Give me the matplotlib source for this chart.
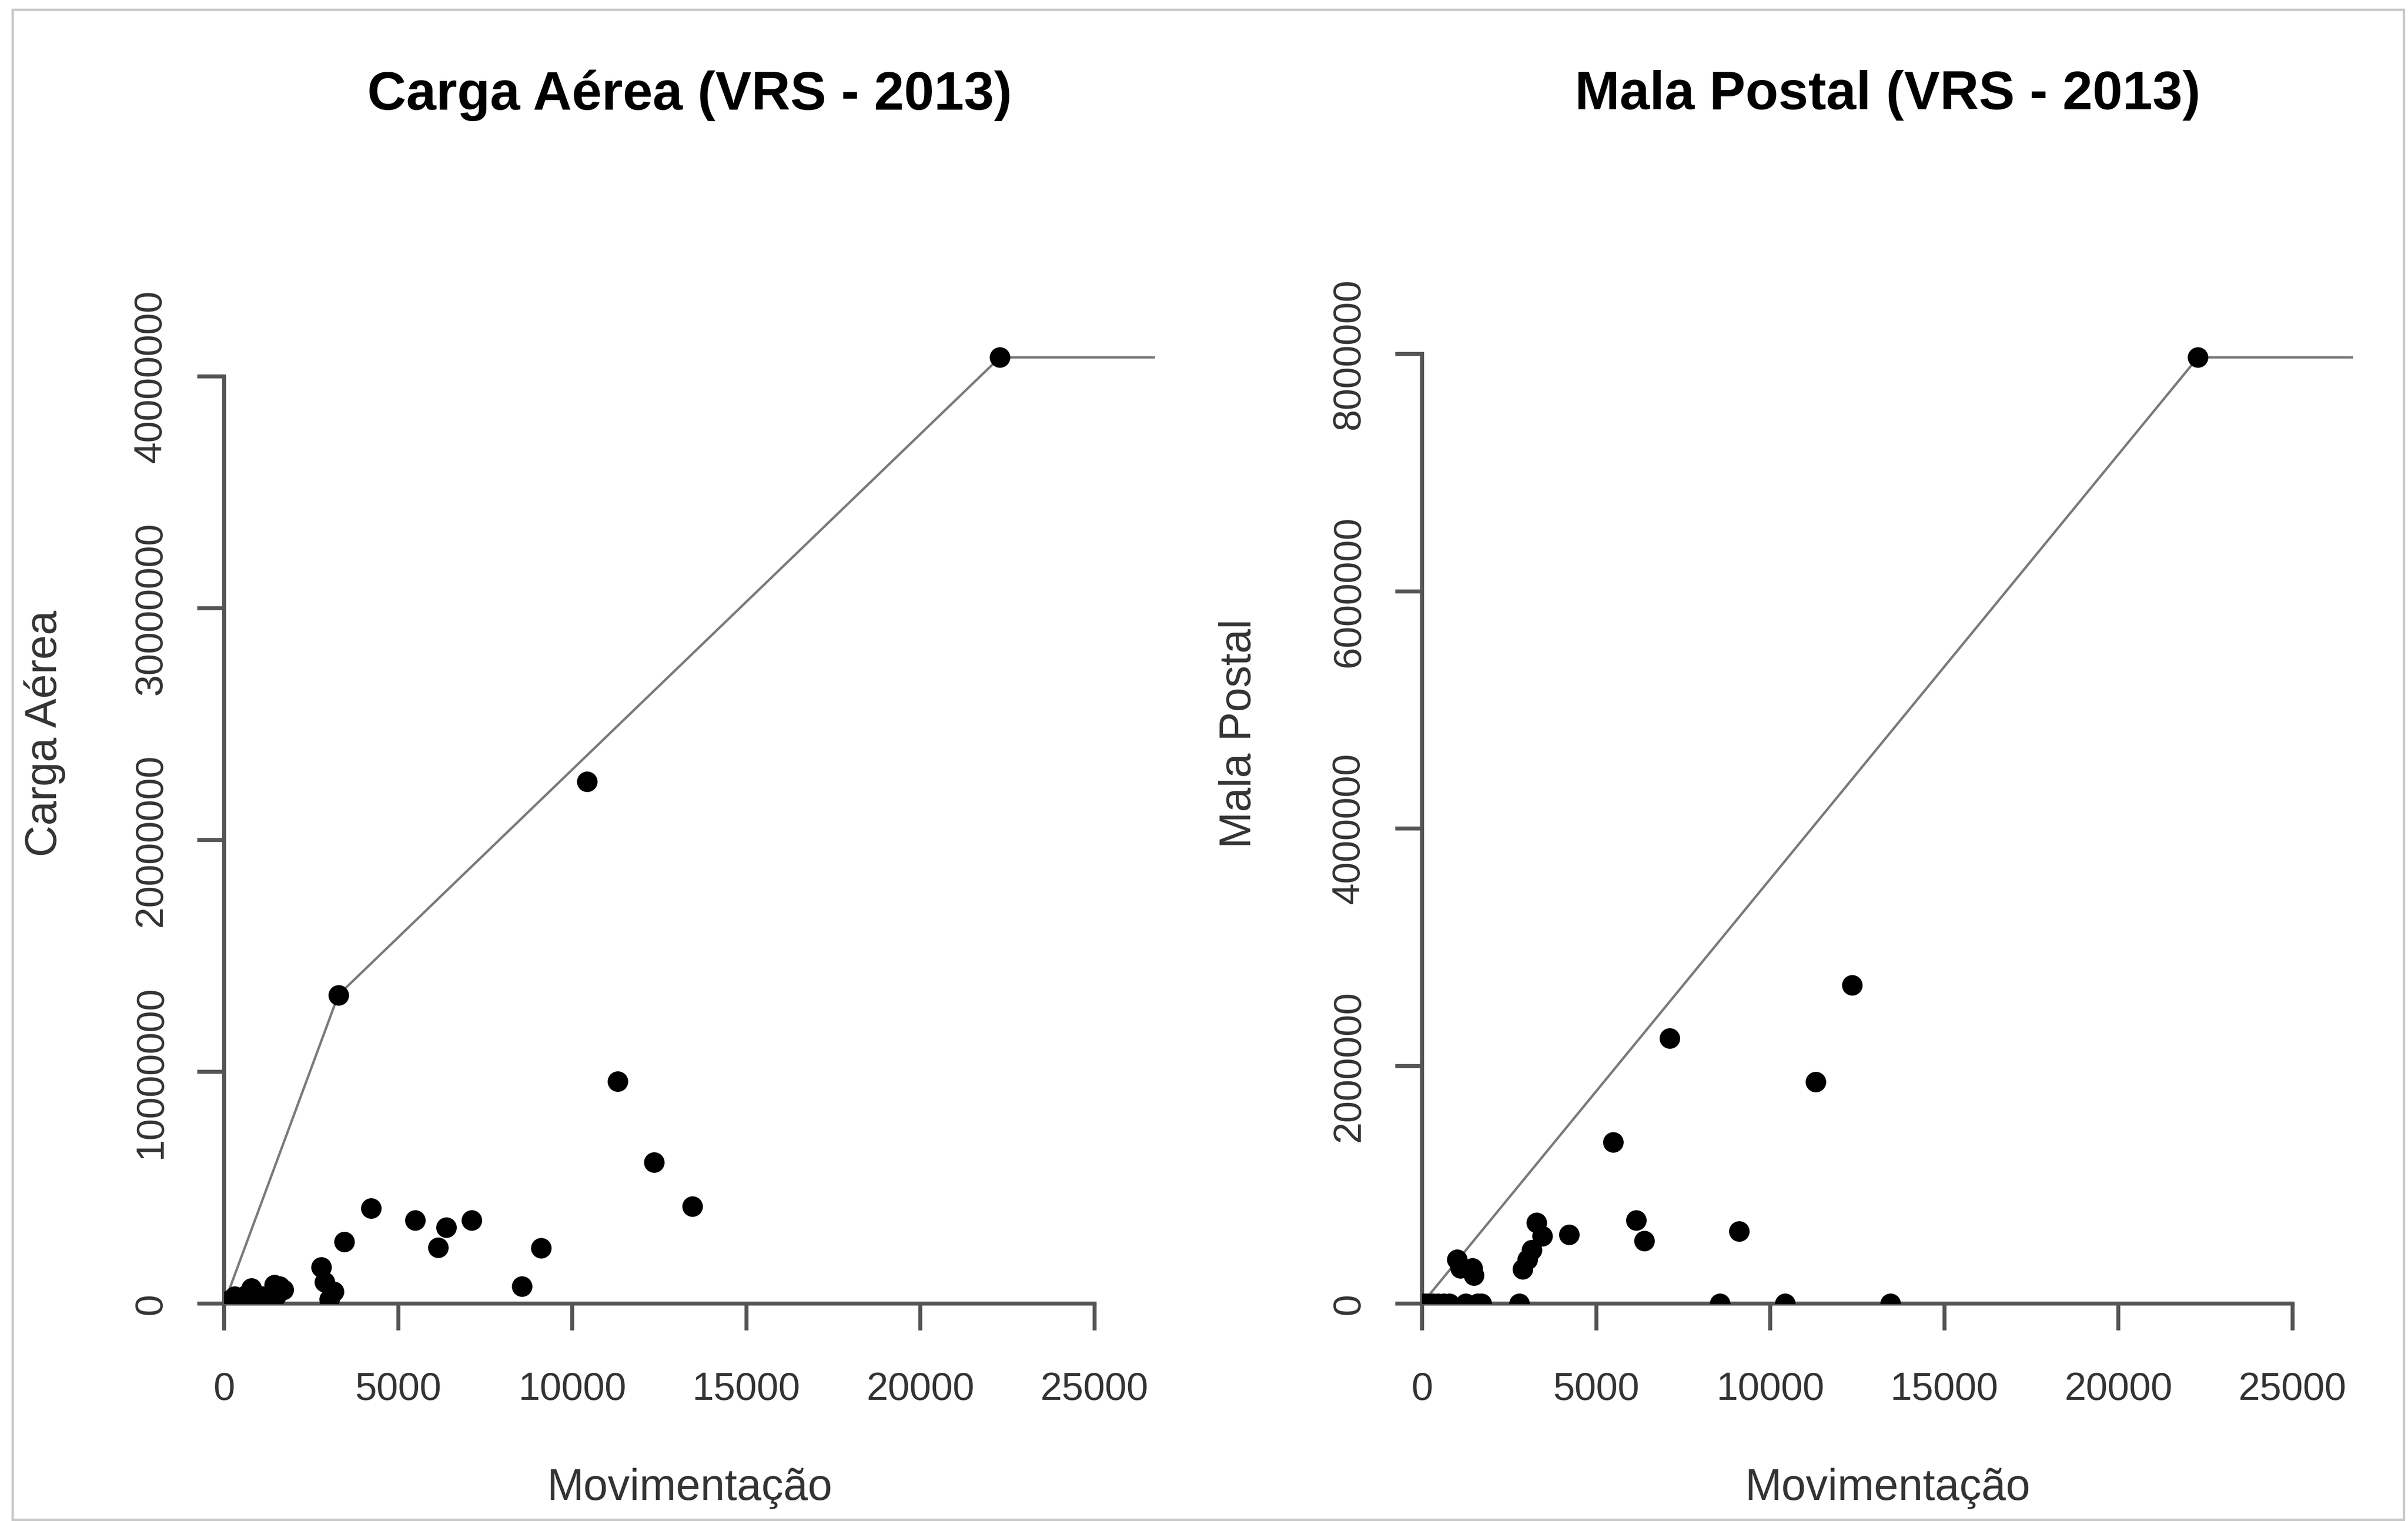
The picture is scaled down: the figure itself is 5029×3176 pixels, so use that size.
import matplotlib.pyplot as plt
from matplotlib.patches import Rectangle

# movimentação (eixo x) de cada aeroporto, comum aos dois gráficos
movimentacao = [60, 150, 300, 450, 620, 784, 1000, 1100, 1250, 1450, 1480, 1600, 1700,
                2790, 2890, 3030, 3150, 3280, 3450, 4220, 5490, 6150, 6385, 7105,
                8550, 9105, 10420, 11300, 12350, 13455, 22280]

# carga aérea e mala postal (kg)
carga = [0.05e6, 0.15e6, 0.30e6, 0.10e6, 0.35e6, 0.66e6, 0.05e6, 0.30e6, 0.10e6, 0.80e6,
         0.30e6, 0.75e6, 0.60e6, 1.56e6, 0.94e6, 0.18e6, 0.52e6, 13.31e6, 2.66e6,
         4.11e6, 3.59e6, 2.42e6, 3.28e6, 3.59e6, 0.74e6, 2.40e6, 22.52e6, 9.58e6,
         6.10e6, 4.19e6, 40.82e6]
mala = [0, 0, 0, 0, 0, 0, 0.37e6, 0.30e6, 0, 0.30e6, 0.24e6, 0, 0,
        0, 0.29e6, 0.37e6, 0.45e6, 0.68e6, 0.57e6, 0.58e6, 1.36e6, 0.70e6, 0.53e6,
        2.235e6, 0, 0.61e6, 0, 1.866e6, 2.683e6, 0, 7.97e6]

# fronteiras VRS
fronteira_carga_x = [0, 3280, 22280]
fronteira_carga_y = [0, 13.31e6, 40.82e6]
fronteira_mala_x = [0, 22280]
fronteira_mala_y = [0, 7.97e6]

xticks = [0, 5000, 10000, 15000, 20000, 25000]
xlabels = ['0', '5000', '10000', '15000', '20000', '25000']
yticks_carga = [0, 10000000, 20000000, 30000000, 40000000]
ylabels_carga = ['0', '10000000', '20000000', '30000000', '40000000']
yticks_mala = [0, 2000000, 4000000, 6000000, 8000000]
ylabels_mala = ['0', '2000000', '4000000', '6000000', '8000000']

plt.rcParams['font.family'] = ['Liberation Sans', 'DejaVu Sans']

W, H = 5029, 3176
fig = plt.figure(figsize=(W / 300, H / 300), dpi=300)
fig.patches.append(Rectangle((26 / W, 3 / H), (5020 - 26) / W, (3173 - 20) / H,
                             transform=fig.transFigure, fill=False,
                             ec='#c8c8c8', lw=1.2))

cinza = '#555555'
texto = '#333333'


def painel(x0, y, fx, fy, yticks, ylabels, titulo, rotulo, ylab_x):
    xmax = 1.2 * max(movimentacao)
    ax = fig.add_axes([x0 / W, 454 / H, 1944.3 / W, 0.7465])
    ax.plot(fx + [xmax * 1.01], fy + [fy[-1]], color='#7a7a7a', lw=1.2, zorder=2)
    ax.plot(movimentacao, y, 'o', color='black', ms=10.3, mec='none', zorder=3)
    ax.set_xlim(0, xmax)
    ax.set_ylim(0, 1.2 * max(y))
    for s in ['top', 'right']:
        ax.spines[s].set_visible(False)
    for s in ['left', 'bottom']:
        ax.spines[s].set_color(cinza)
        ax.spines[s].set_linewidth(2)
    ax.spines['bottom'].set_bounds(0, 25000)
    ax.spines['left'].set_bounds(0, yticks[-1])
    ax.set_xticks(xticks, xlabels)
    ax.set_yticks(yticks, ylabels)
    ax.tick_params(length=13.5, width=2, color=cinza, labelsize=19.5, labelcolor=texto)
    ax.tick_params(axis='x', pad=20.6)
    ax.tick_params(axis='y', pad=14)
    for lab in ax.get_yticklabels():
        lab.set_rotation(90)
        lab.set_va('center')

    cx = (x0 + 1944.3 / 2) / W
    fig.text(cx, 1 - 199 / H, titulo, ha='center', va='center', fontsize=27,
             fontweight='bold', color='black')
    fig.text(cx, 1 - 3108 / H, 'Movimentação', ha='center', va='center',
             fontsize=22, color=texto)
    fig.text(ylab_x / W, 1 - 1532 / H, rotulo, ha='center', va='center',
             rotation=90, fontsize=22, color=texto)
    return ax


painel(468, carga, fronteira_carga_x, fronteira_carga_y, yticks_carga, ylabels_carga,
       'Carga Aérea (VRS - 2013)', 'Carga Aérea', 93)
painel(2970, mala, fronteira_mala_x, fronteira_mala_y, yticks_mala, ylabels_mala,
       'Mala Postal (VRS - 2013)', 'Mala Postal', 2588)

fig.savefig('out.png', dpi=300, facecolor='white')
